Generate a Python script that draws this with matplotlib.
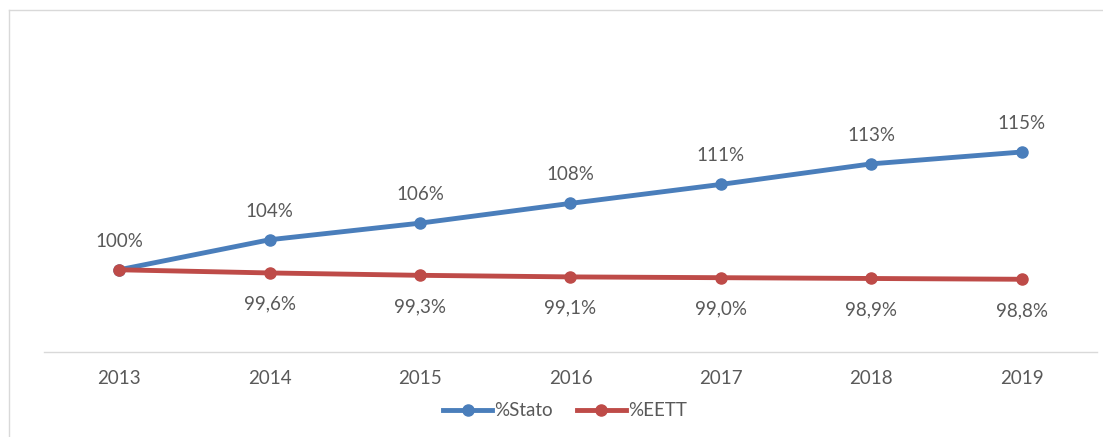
import matplotlib
matplotlib.use("Agg")
import matplotlib.pyplot as plt
from matplotlib.lines import Line2D

years = ["2013", "2014", "2015", "2016", "2017", "2018", "2019"]
stato = [100.0, 103.8, 105.9, 108.4, 110.8, 113.4, 114.9]
eett = [100.0, 99.6, 99.3, 99.1, 99.0, 98.9, 98.8]
stato_labels = ["100%", "104%", "106%", "108%", "111%", "113%", "115%"]
eett_labels = ["", "99,6%", "99,3%", "99,1%", "99,0%", "98,9%", "98,8%"]

BLUE = "#4a7ebb"
RED = "#be4b48"
GRAY = "#595959"

plt.rcParams['font.family'] = ['Lato', 'DejaVu Sans']
FS = 13.5

W, H = 1103, 437
fig = plt.figure(figsize=(W / 100, H / 100), dpi=100)

# axes pixel box: x 44..1097, y 35..352 (from top)
left, right, top, bottom = 44, 1097, 35, 352
ax = fig.add_axes([left / W, 1 - bottom / H, (right - left) / W, (bottom - top) / H])

x = list(range(len(years)))
ax.plot(x, stato, color=BLUE, lw=3.5, marker='o', ms=8, solid_capstyle='round', zorder=3)
ax.plot(x, eett, color=RED, lw=3.5, marker='o', ms=8, solid_capstyle='round', zorder=4)

for i, (v, lab) in enumerate(zip(stato, stato_labels)):
    ax.annotate(lab, (i, v), xytext=(0, 20.5), textcoords='offset points',
                ha='center', va='center', fontsize=FS, color=GRAY)
for i, (v, lab) in enumerate(zip(eett, eett_labels)):
    if lab:
        ax.annotate(lab, (i, v), xytext=(0, -22.5), textcoords='offset points',
                    ha='center', va='center', fontsize=FS, color=GRAY)

ax.set_xlim(-0.5, len(years) - 0.5)
ax.set_ylim(89.6, 129.7)
ax.set_xticks(x)
ax.set_xticklabels(years, fontsize=FS, color=GRAY)
ax.tick_params(axis='x', length=0, pad=13)
ax.set_yticks([])
for s in ['left', 'right', 'top']:
    ax.spines[s].set_visible(False)
ax.spines['bottom'].set_color('#d9d9d9')
ax.spines['bottom'].set_linewidth(1)

handles = [Line2D([], [], color=BLUE, lw=3.5, marker='o', ms=8),
           Line2D([], [], color=RED, lw=3.5, marker='o', ms=8)]
fig.legend(handles, ["%Stato", "%EETT"], loc='center', bbox_to_anchor=(565 / W, 1 - 411 / H),
           ncol=2, frameon=False, fontsize=FS, labelcolor=GRAY,
           handlelength=2.6, handletextpad=0.1, columnspacing=1.3)

# light outer border (top and left)
fig.add_artist(Line2D([9 / W, 1.0], [1 - 10 / H, 1 - 10 / H], transform=fig.transFigure,
                      color='#d9d9d9', lw=1))
fig.add_artist(Line2D([9 / W, 9 / W], [0, 1 - 10 / H], transform=fig.transFigure,
                      color='#d9d9d9', lw=1))

fig.savefig("out.png", dpi=100)
